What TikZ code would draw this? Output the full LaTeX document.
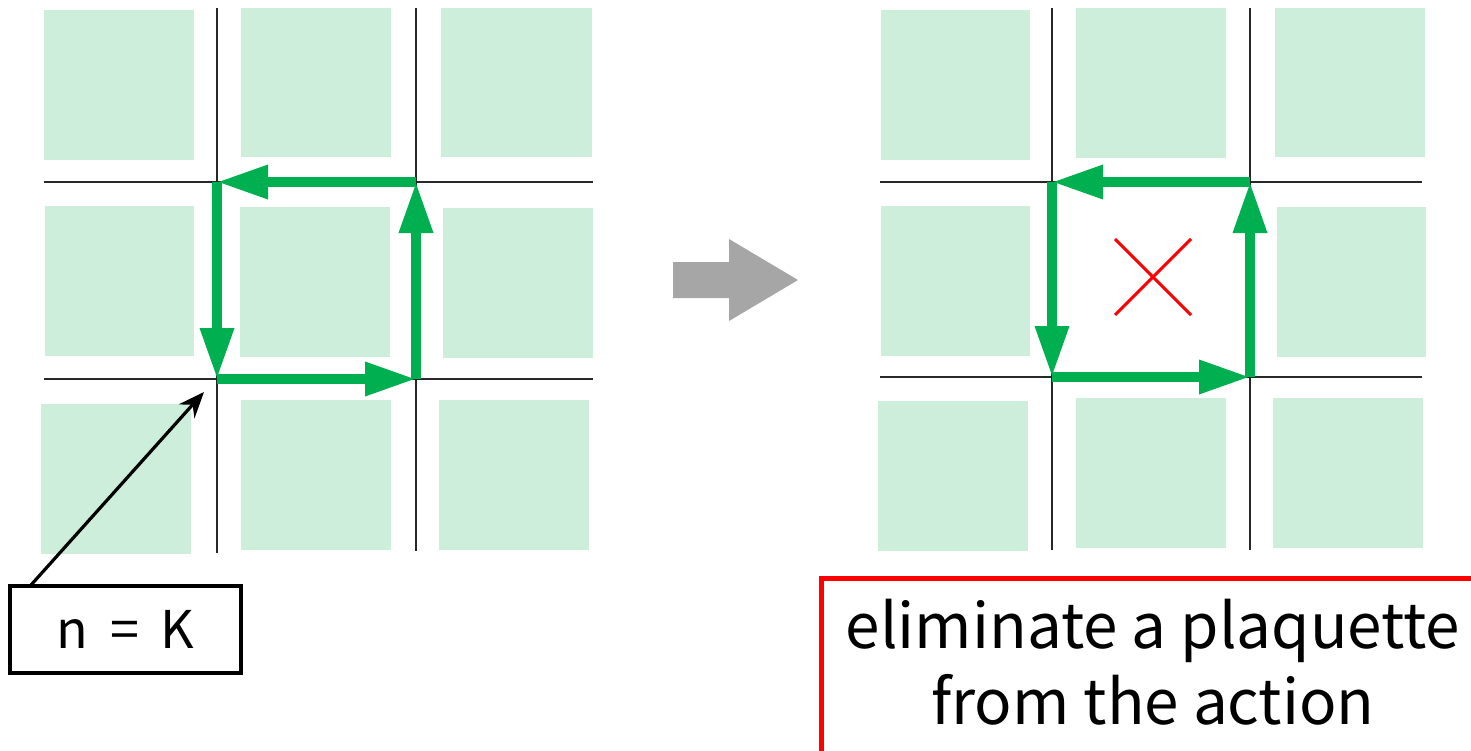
\documentclass[tikz,border=0pt]{standalone}
\usepackage{fontspec}
\setmainfont{Noto Sans CJK JP}
\usetikzlibrary{arrows.meta}
\definecolor{tile}{RGB}{204,238,219}
\definecolor{loopgreen}{RGB}{0,176,80}
\definecolor{shiftgray}{RGB}{166,166,166}
\definecolor{gridgray}{RGB}{40,40,40}
\begin{document}
\begin{tikzpicture}[x=1pt,y=-1pt,
  gridline/.style={gridgray,line width=1.3},
  looparrow/.style={loopgreen,line width=9.5,-{Triangle[length=51,width=32]}},
  pointer/.style={black,line width=3.2,-{Stealth[length=26,width=21,inset=9]}},
  labelbox/.style={draw=black,line width=3.2,minimum width=231,minimum height=87,inner sep=0pt},
]
\useasboundingbox (0,0) rectangle (1471,750);
\clip (0,0) rectangle (1471,750);

% plaquette tiles, left lattice
\foreach \a/\b/\c/\d in {44/10/194/160, 241/8/391/157, 441/8/592/157,
                         45/206/194/356, 240/207/390/357, 443/208/593/358,
                         41/404/191/554, 241/400/391/550, 439/400/589/550}
  \fill[tile] (\a,\b) rectangle (\c,\d);
% plaquette tiles, right lattice (centre one removed)
\foreach \a/\b/\c/\d in {881/10/1030/160, 1076/8/1226/158, 1275/8/1425/157,
                         881/206/1030/356, 1277/207/1426/357,
                         878/401/1028/551, 1076/398/1226/548, 1273/398/1423/548}
  \fill[tile] (\a,\b) rectangle (\c,\d);

% lattice links
\draw[gridline] (217,8) -- (217,553) (416,8) -- (416,551)
                (44,182) -- (593,182) (44,379) -- (593,379);
\draw[gridline] (1052,8) -- (1052,550) (1250,8) -- (1250,550)
                (880,182) -- (1422,182) (880,377) -- (1422,377);

% loop corners
\coordinate (ltl) at (217,182);
\coordinate (ltr) at (416,182);
\coordinate (lbr) at (416,379);
\coordinate (lbl) at (217,379);
\coordinate (rtl) at (1052,182);
\coordinate (rtr) at (1250,182);
\coordinate (rbr) at (1250,377);
\coordinate (rbl) at (1052,377);

% oriented plaquette loops
\draw[looparrow] (ltr) -- (ltl);
\draw[looparrow] (ltl) -- (lbl);
\draw[looparrow] (lbl) -- (lbr);
\draw[looparrow] (lbr) -- (ltr);
\draw[looparrow] (rtr) -- (rtl);
\draw[looparrow] (rtl) -- (rbl);
\draw[looparrow] (rbl) -- (rbr);
\draw[looparrow] (rbr) -- (rtr);

% removed plaquette mark
\draw[red,line width=3] (1115,239) -- (1191,315) (1191,239) -- (1115,315);

% transition arrow
\fill[shiftgray] (673,262) -- (729,262) -- (729,239) -- (798,280)
                 -- (729,321) -- (729,298) -- (673,298) -- cycle;

% n = K label
\node[labelbox] (nk) at (125.5,629.5)
  {\fontsize{52}{60}\selectfont n\hspace{22pt}=\hspace{22pt}K};
\coordinate (nkfoot) at (31,585);
\coordinate (nktip) at (204,392);
\draw[pointer] (nkfoot) -- (nktip);

% explanation box
\draw[red,line width=5] (821,578) rectangle (1500,780);
\node[anchor=base,inner sep=0pt] (line1) at (1153,648)
  {\fontsize{62}{76}\selectfont eliminate a plaquette};
\node[anchor=base,inner sep=0pt] (line2) at (1153,724)
  {\fontsize{62}{76}\selectfont from the action};
\end{tikzpicture}
\end{document}
